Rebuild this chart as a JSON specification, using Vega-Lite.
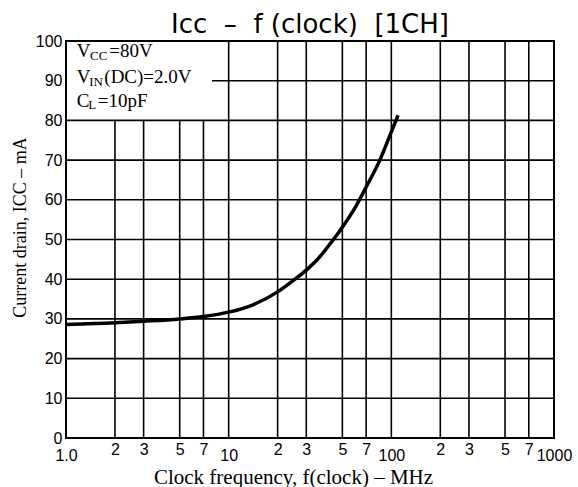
{
  "$schema": "https://vega.github.io/schema/vega-lite/v6.json",
  "width": 488,
  "height": 397,
  "autosize": {"type": "none"},
  "padding": {"left": 66, "top": 41, "right": 24, "bottom": 49},
  "background": "white",
  "title": {
    "text": "Icc\u00a0\u00a0–\u00a0\u00a0f (clock)\u00a0\u00a0[1CH]",
    "font": "DejaVu Sans",
    "fontSize": 26,
    "fontWeight": "normal",
    "color": "black",
    "anchor": "middle",
    "frame": "group",
    "baseline": "bottom",
    "offset": 2,
    "dy": 33
  },
  "config": {
    "view": {"stroke": "black", "strokeWidth": 2},
    "axis": {
      "domain": false,
      "ticks": false,
      "grid": false,
      "labelFont": "Liberation Sans",
      "labelFontSize": 16,
      "labelColor": "black",
      "titleFont": "Liberation Serif",
      "titleFontWeight": "normal",
      "titleColor": "black",
      "labelOverlap": false,
      "labelBound": false,
      "labelFlush": false
    }
  },
  "datasets": {
    "curve": [
      {"f": 1, "i": 28.6},
      {"f": 2, "i": 29.0},
      {"f": 3, "i": 29.4},
      {"f": 5, "i": 30.0},
      {"f": 7, "i": 30.6},
      {"f": 10, "i": 31.7},
      {"f": 14, "i": 33.5},
      {"f": 20, "i": 36.8},
      {"f": 25, "i": 39.7},
      {"f": 30, "i": 42.3},
      {"f": 35, "i": 44.9},
      {"f": 42, "i": 48.9},
      {"f": 50, "i": 53.1},
      {"f": 60, "i": 58.1},
      {"f": 70, "i": 63.2},
      {"f": 85, "i": 70.0},
      {"f": 100, "i": 77.1},
      {"f": 110, "i": 81.3}
    ],
    "notes": [
      {"f": 1.164, "i": 95.9, "t": "V", "k": "main"},
      {"f": 1.404, "i": 95.1, "t": "CC", "k": "sub"},
      {"f": 1.846, "i": 95.9, "t": "=80V", "k": "main"},
      {"f": 1.164, "i": 89.5, "t": "V", "k": "main"},
      {"f": 1.39, "i": 88.7, "t": "IN", "k": "sub"},
      {"f": 1.72, "i": 89.5, "t": "(DC)=2.0V", "k": "main"},
      {"f": 1.164, "i": 83.5, "t": "C", "k": "main"},
      {"f": 1.37, "i": 82.8, "t": "L", "k": "sub"},
      {"f": 1.566, "i": 83.5, "t": "=10pF", "k": "main"}
    ],
    "xgrid": [
      {"f": 2, "top": 80}, {"f": 3, "top": 80}, {"f": 5, "top": 80}, {"f": 7, "top": 80},
      {"f": 10, "top": 100}, {"f": 20, "top": 100}, {"f": 30, "top": 100}, {"f": 50, "top": 100}, {"f": 70, "top": 100},
      {"f": 100, "top": 100}, {"f": 200, "top": 100}, {"f": 300, "top": 100}, {"f": 500, "top": 100}, {"f": 700, "top": 100}
    ],
    "ygrid": [
      {"i": 10, "left": 1}, {"i": 20, "left": 1}, {"i": 30, "left": 1}, {"i": 40, "left": 1},
      {"i": 50, "left": 1}, {"i": 60, "left": 1}, {"i": 70, "left": 1}, {"i": 80, "left": 1},
      {"i": 90, "left": 7.9}
    ]
  },
  "encoding": {
    "x": {
      "field": "f",
      "type": "quantitative",
      "scale": {"type": "log", "domain": [1, 1000], "nice": false},
      "axis": {
        "values": [1, 2, 3, 5, 7, 10, 20, 30, 50, 70, 100, 200, 300, 500, 700, 1000],
        "labelExpr": "datum.value == 1 ? '1.0' : (indexof([10,100,1000], datum.value) >= 0 ? format(datum.value, 'd') : format(datum.value / pow(10, floor(log(datum.value) / LN10 + 1e-9)), 'd'))",
        "labelPadding": {"condition": {"test": "indexof([1,10,100,1000], datum.value) >= 0", "value": 9}, "value": 3},
        "title": "Clock frequency, f(clock) – MHz",
        "titleFontSize": 21,
        "titleBaseline": "alphabetic",
        "titleX": 227,
        "titleY": 45
      }
    },
    "y": {
      "field": "i",
      "type": "quantitative",
      "scale": {"domain": [0, 100], "nice": false},
      "axis": {
        "values": [0, 10, 20, 30, 40, 50, 60, 70, 80, 90, 100],
        "labelPadding": 4,
        "title": "Current drain, ICC – mA",
        "titleFontSize": 18,
        "titlePadding": 6,
        "titleY": 186
      }
    }
  },
  "layer": [
    {
      "data": {"name": "xgrid"},
      "mark": {"type": "rule", "color": "black", "strokeWidth": 1.6},
      "encoding": {
        "y": {"field": "top", "type": "quantitative"},
        "y2": {"datum": 0}
      }
    },
    {
      "data": {"name": "ygrid"},
      "mark": {"type": "rule", "color": "black", "strokeWidth": 1.6},
      "encoding": {
        "x": {"field": "left", "type": "quantitative"},
        "x2": {"datum": 1000}
      }
    },
    {
      "data": {"name": "curve"},
      "mark": {"type": "line", "color": "black", "strokeWidth": 3.5, "interpolate": "monotone"}
    },
    {
      "data": {"name": "notes"},
      "transform": [{"filter": "datum.k == 'main'"}],
      "mark": {"type": "text", "align": "left", "baseline": "alphabetic", "font": "Liberation Serif", "fontSize": 19, "color": "black"},
      "encoding": {"text": {"field": "t"}}
    },
    {
      "data": {"name": "notes"},
      "transform": [{"filter": "datum.k == 'sub'"}],
      "mark": {"type": "text", "align": "left", "baseline": "alphabetic", "font": "Liberation Serif", "fontSize": 13, "color": "black"},
      "encoding": {"text": {"field": "t"}}
    }
  ]
}
